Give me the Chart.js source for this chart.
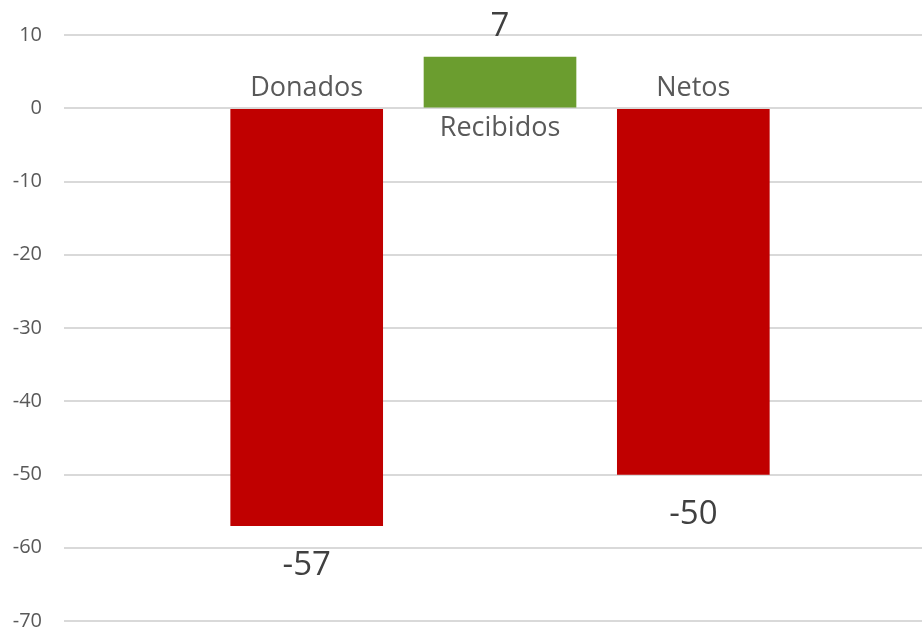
<!DOCTYPE html>
<html>
<head>
<meta charset="utf-8">
<script src="https://cdn.jsdelivr.net/npm/chart.js@4"></script>
<style>
  html, body { margin: 0; padding: 0; background: #fff; }
  canvas { display: block; }
</style>
</head>
<body>
<canvas id="balanceChart" width="922" height="628"></canvas>
<script>
// Donations balance: given, received and net
const categories = ['Donados', 'Recibidos', 'Netos'];
const values = [-57, 7, -50];
const barColors = ['#C00000', '#6B9D2F', '#C00000'];
const yTicks = [10, 0, -10, -20, -30, -40, -50, -60, -70];

const FONT = '"Segoe UI", "Open Sans", "Noto Sans", sans-serif';

// Writes the value past the end of each bar and the category name on the other side of zero
const barLabels = {
    id: 'barLabels',
    afterDatasetsDraw(chart) {
        const ctx = chart.ctx;
        const meta = chart.getDatasetMeta(0);
        ctx.save();
        ctx.textAlign = 'center';
        ctx.textBaseline = 'alphabetic';
        meta.data.forEach((bar, i) => {
            const v = values[i];
            const { x, y, base } = bar.getProps(['x', 'y', 'base'], true);

            ctx.fillStyle = '#404040';
            ctx.font = '33px ' + FONT;
            ctx.fillText(String(v), x, v >= 0 ? y - 21 : y + 49);

            ctx.fillStyle = '#595959';
            ctx.font = '27px ' + FONT;
            ctx.fillText(categories[i], x, v >= 0 ? base + 29 : base - 13);
        });
        ctx.restore();
    }
};

new Chart(document.getElementById('balanceChart'), {
    type: 'bar',
    data: {
        datasets: [{
            data: values.map((v, i) => ({ x: i + 1, y: v })),
            backgroundColor: barColors,
            borderWidth: 0,
            barThickness: 152
        }]
    },
    options: {
        responsive: false,
        animation: false,
        layout: { padding: { top: 35, bottom: 7, left: 0, right: 0 } },
        plugins: {
            legend: { display: false },
            tooltip: { enabled: false }
        },
        scales: {
            x: {
                type: 'linear',
                display: false,
                offset: false,
                min: -0.2555,
                max: 4.183
            },
            y: {
                min: -70,
                max: 10,
                afterFit: (scale) => {
                    // fixed axis width; let the layout padding decide top/bottom
                    scale.width = 64;
                    scale.paddingTop = 0;
                    scale.paddingBottom = 0;
                },
                afterBuildTicks: (scale) => {
                    scale.ticks = yTicks.map(v => ({ value: v }));
                },
                border: { display: false },
                grid: {
                    color: '#d9d9d9',
                    lineWidth: 2,
                    drawTicks: false
                },
                ticks: {
                    color: '#595959',
                    padding: 22,
                    font: { family: FONT, size: 20 }
                }
            }
        }
    },
    plugins: [barLabels]
});
</script>
</body>
</html>
